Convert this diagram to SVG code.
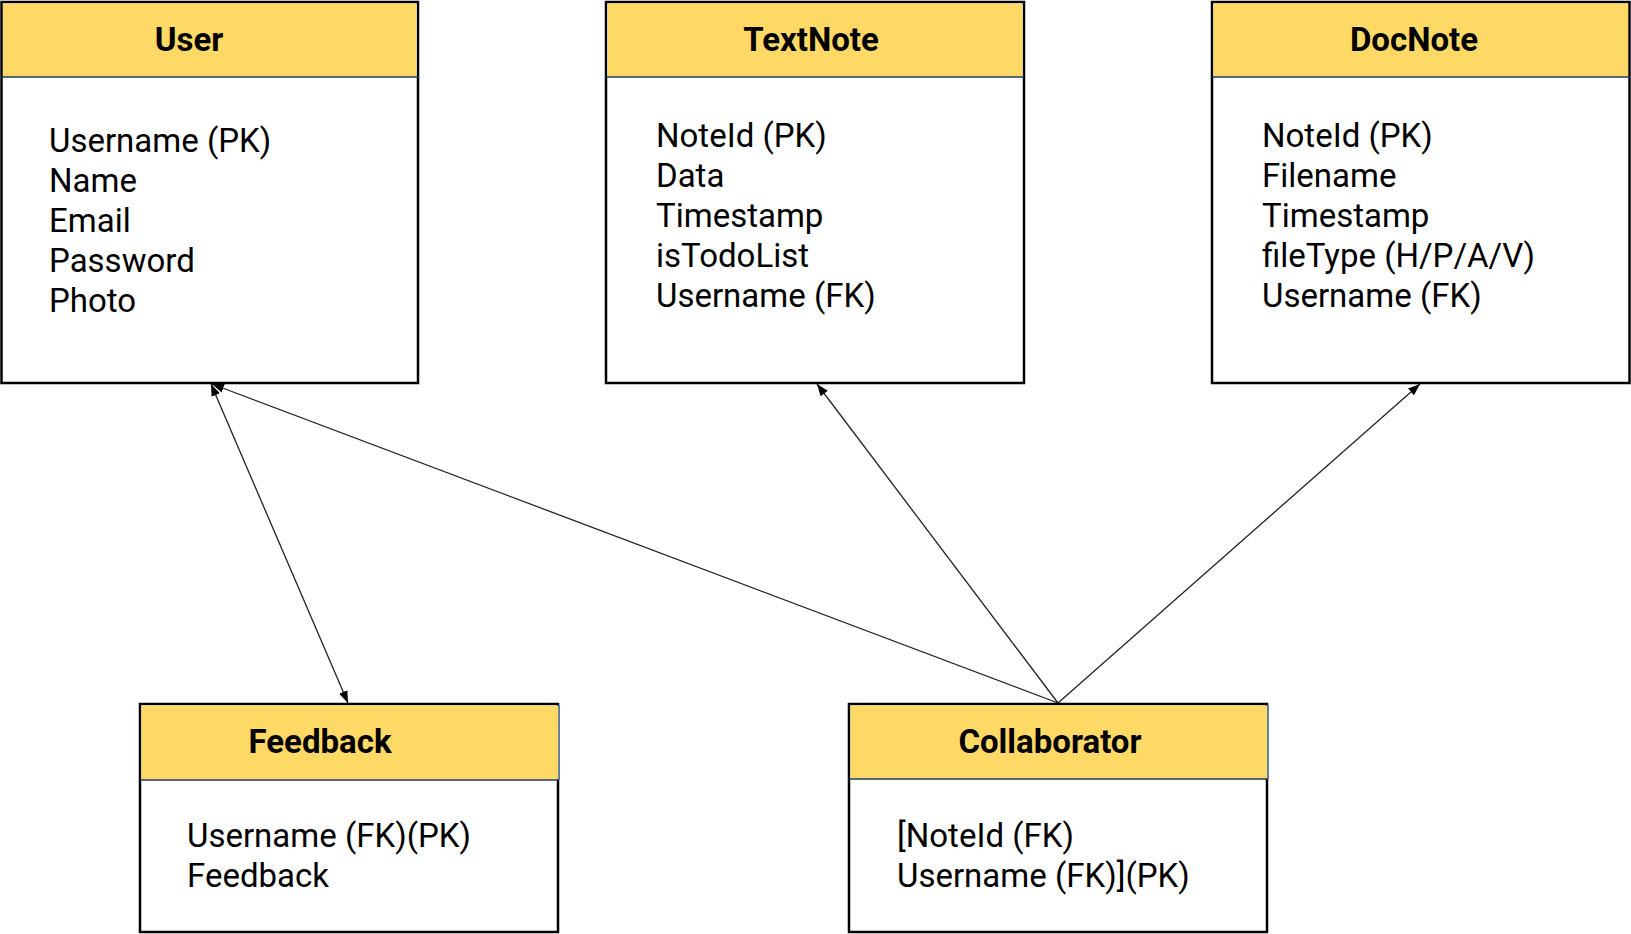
<svg xmlns="http://www.w3.org/2000/svg" width="1631" height="934" viewBox="0 0 1631 934">
<style>
.box{fill:#fff;stroke:#000;stroke-width:2.5}
.hdr{fill:#ffd966;stroke:none}
.sep{stroke:#1f3a55;stroke-width:1.5}
.title{font-family:Roboto,"Liberation Sans",sans-serif;font-weight:bold;font-size:33px;fill:#000;text-anchor:middle}
.body{font-family:Roboto,"Liberation Sans",sans-serif;font-size:33px;fill:#000}
.conn{stroke:#222;stroke-width:1.3;fill:none}
</style>
<defs>
<marker id="ah" viewBox="0 0 12 10" refX="12" refY="5" markerWidth="12" markerHeight="10" markerUnits="userSpaceOnUse" orient="auto-start-reverse">
<path d="M0,0.5 L12,5 L0,9.5 z" fill="#000"/>
</marker>
</defs>
<g id="connectors">
<line class="conn" x1="211" y1="384" x2="348" y2="703" marker-start="url(#ah)" marker-end="url(#ah)"/>
<line class="conn" x1="1058" y1="703" x2="212" y2="384" marker-end="url(#ah)"/>
<line class="conn" x1="1058" y1="703" x2="817" y2="384" marker-end="url(#ah)"/>
<line class="conn" x1="1058" y1="703" x2="1420" y2="384" marker-end="url(#ah)"/>
</g>
<g id="user">
<rect class="box" x="1.5" y="2" width="416.5" height="381"/>
<rect class="hdr" x="3" y="3.5" width="413.5" height="73"/>
<line class="sep" x1="1.5" y1="77" x2="419" y2="77"/>
<text class="title" x="189" y="51">User</text>
<text class="body"><tspan x="49" y="152">Username (PK)</tspan><tspan x="49" y="192">Name</tspan><tspan x="49" y="232">Email</tspan><tspan x="49" y="272">Password</tspan><tspan x="49" y="312">Photo</tspan></text>
</g>
<g id="textnote">
<rect class="box" x="606" y="2" width="418" height="381"/>
<rect class="hdr" x="607.5" y="3.5" width="415" height="73"/>
<line class="sep" x1="606" y1="77" x2="1024" y2="77"/>
<text class="title" x="811" y="51">TextNote</text>
<text class="body"><tspan x="656" y="147">NoteId (PK)</tspan><tspan x="656" y="187">Data</tspan><tspan x="656" y="227">Timestamp</tspan><tspan x="656" y="267">isTodoList</tspan><tspan x="656" y="307">Username (FK)</tspan></text>
</g>
<g id="docnote">
<rect class="box" x="1212" y="2" width="417.5" height="381"/>
<rect class="hdr" x="1213.5" y="3.5" width="414.5" height="73"/>
<line class="sep" x1="1212" y1="77" x2="1630" y2="77"/>
<text class="title" x="1414" y="51">DocNote</text>
<text class="body"><tspan x="1262" y="147">NoteId (PK)</tspan><tspan x="1262" y="187">Filename</tspan><tspan x="1262" y="227">Timestamp</tspan><tspan x="1262" y="267">fileType (H/P/A/V)</tspan><tspan x="1262" y="307">Username (FK)</tspan></text>
</g>
<g id="feedback">
<rect class="box" x="140" y="704" width="418" height="228"/>
<rect class="hdr" x="141.5" y="705.5" width="417.5" height="74"/>
<line x1="559" y1="705" x2="559" y2="780" stroke="#3d6a9a" stroke-width="1.5"/>
<line class="sep" x1="140" y1="780" x2="559" y2="780"/>
<text class="title" x="320" y="753">Feedback</text>
<text class="body"><tspan x="187" y="847">Username (FK)(PK)</tspan><tspan x="187" y="887">Feedback</tspan></text>
</g>
<g id="collaborator">
<rect class="box" x="849" y="704" width="418" height="228"/>
<rect class="hdr" x="850.5" y="705.5" width="417.5" height="73"/>
<line x1="1268" y1="705" x2="1268" y2="779" stroke="#3d6a9a" stroke-width="1.5"/>
<line class="sep" x1="849" y1="779" x2="1268" y2="779"/>
<text class="title" x="1050" y="753">Collaborator</text>
<text class="body"><tspan x="897" y="847">[NoteId (FK)</tspan><tspan x="897" y="887">Username (FK)](PK)</tspan></text>
</g>
</svg>
